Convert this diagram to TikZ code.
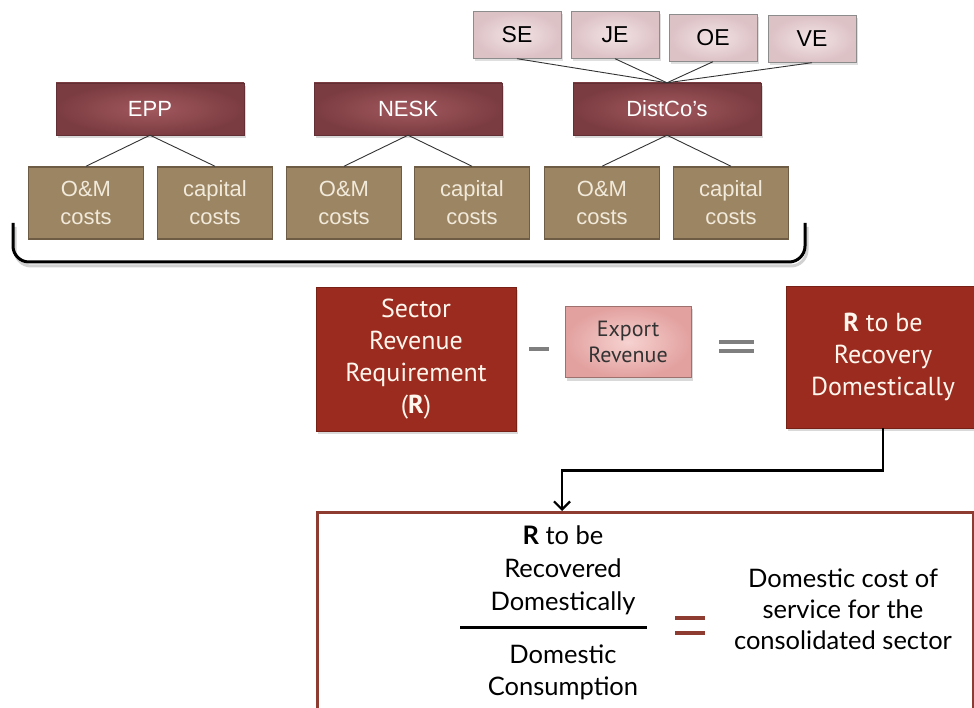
\documentclass[tikz,border=0pt]{standalone}
\usepackage{fontspec}
\usepackage{xcolor}
\usepackage{tikz}
\usetikzlibrary{arrows.meta,positioning,shadows}

\newfontfamily\orgfont{Liberation Sans}
\newfontfamily\narrowfont{PT Sans}
\newfontfamily\gillfont{Lato}

\definecolor{orglight}{HTML}{A2595E}
\definecolor{orgdark}{HTML}{7B3C41}
\definecolor{costfill}{HTML}{9C8563}
\definecolor{costline}{HTML}{6E5D44}
\definecolor{costtext}{HTML}{F1EADB}
\definecolor{unitlight}{HTML}{F3E4E6}
\definecolor{unitdark}{HTML}{DCC1C5}
\definecolor{sectorred}{HTML}{9C2B1F}
\definecolor{sectorline}{HTML}{772016}
\definecolor{exportlight}{HTML}{F6D2D0}
\definecolor{exportdark}{HTML}{E2A19F}
\definecolor{signgrey}{HTML}{7F7F7F}
\definecolor{consred}{HTML}{8E3B31}

\begin{document}
\begin{tikzpicture}[
  x=1pt, y=-1pt,
  org/.style={draw=orgdark!80!black, inner color=orglight, outer color=orgdark,
    text=white, minimum width=188pt, minimum height=52pt, inner sep=0pt,
    font=\orgfont\fontsize{22}{26}\selectfont,
    drop shadow={opacity=.3, shadow xshift=2pt, shadow yshift=-3pt}},
  cost/.style={draw=costline, line width=1.5pt, fill=costfill, text=costtext,
    align=center, minimum width=115pt, minimum height=72pt, inner sep=0pt,
    font=\orgfont\fontsize{22}{28}\selectfont},
  unit/.style={draw=black!45, inner color=unitlight, outer color=unitdark,
    minimum width=88pt, minimum height=47pt, inner sep=0pt,
    font=\orgfont\fontsize{23}{26}\selectfont,
    drop shadow={opacity=.25, shadow xshift=2pt, shadow yshift=-3pt}},
  sector/.style={draw=sectorline, fill=sectorred, text=white!93!orange,
    align=center, inner sep=0pt, font=\narrowfont\fontsize{26}{32}\selectfont,
    drop shadow={opacity=.3, shadow xshift=2pt, shadow yshift=-3pt}},
  export/.style={draw=exportdark!70!black, inner color=exportlight, outer color=exportdark,
    text=black!80, align=center, minimum width=126pt, minimum height=71pt, inner sep=0pt,
    font=\narrowfont\fontsize{22}{26}\selectfont,
    drop shadow={opacity=.3, shadow xshift=2pt, shadow yshift=-3pt}},
  gill/.style={align=center, inner sep=0pt, font=\gillfont\fontsize{25.5}{33}\selectfont},
  link/.style={draw=black!80, line width=0.9pt},
  sign/.style={draw=signgrey, line width=4.5pt},
  brace/.style={line width=3pt, rounded corners=16pt},
  a/.style={line width=2.6pt, -{Straight Barb[length=8pt, width=16pt, line width=2.2pt]}}]
\useasboundingbox (0,0) rectangle (974,708);
\clip (0,0) rectangle (974,708);

% companies and their costs
\node[org] (epp) at (150,109) {EPP};
\node[org] (nesk) at (408,109) {NESK};
\node[org] (dist) at (667,109) {DistCo’s};
\node[cost] (epp-om) at (86,203) {O\&M\\costs};
\node[cost] (epp-cap) at (215,203) {capital\\costs};
\node[cost] (nesk-om) at (344,203) {O\&M\\costs};
\node[cost] (nesk-cap) at (472,203) {capital\\costs};
\node[cost] (dist-om) at (602,203) {O\&M\\costs};
\node[cost] (dist-cap) at (731,203) {capital\\costs};
\foreach \o in {epp,nesk,dist}{
  \draw[link] (\o.south) -- (\o-om.north);
  \draw[link] (\o.south) -- (\o-cap.north);
}

% distribution units
\node[unit] (se) at (517,35) {SE};
\node[unit] (je) at (615,35) {JE};
\node[unit] (oe) at (713,38) {OE};
\node[unit] (ve) at (812,39) {VE};
\foreach \u in {se,je,oe,ve}
  \draw[link] (\u.south) -- (dist.north);

% brace under the costs
\draw[brace, black!18, shift={(2,4)}] (13,223) -- (13,262) -- (805,262) -- (805,223);
\draw[brace] (13,223) -- (13,262) -- (805,262) -- (805,223);

% revenue balance
\node[sector, minimum width=200pt, minimum height=144pt] (srr) at (416,359)
  {Sector\\Revenue\\Requirement\\(\textbf{R})};
\draw[sign] (529,349) -- (549,349);
\node[export] (exp) at (628,342) {Export\\Revenue};
\draw[sign] (719,342) -- (754,342);
\draw[sign] (719,351) -- (754,351);
\node[sector, minimum width=194pt, minimum height=142pt] (rdom) at (883,357)
  {\textbf{R} to be\\Recovery\\Domestically};

% consolidated cost of service
\node[draw=consred, line width=3pt, minimum width=656pt, minimum height=210pt] (cons) at (645,617) {};
\coordinate (tip) at (562,511);
\draw[a] (rdom.south) -- ++(0,42) -| (tip);
\node[gill] (num) at (563,570) {\textbf{R} to be\\Recovered\\Domestically};
\node[gill, font=\gillfont\fontsize{25.5}{32}\selectfont] (den) at (563,672) {Domestic\\Consumption};
\draw[line width=3pt] (460,627) -- (647,627);
\draw[consred, line width=4pt] (675,618) -- (705,618);
\draw[consred, line width=4pt] (675,633) -- (705,633);
\node[gill, font=\gillfont\fontsize{25.5}{31}\selectfont] (dcs) at (843,609)
  {Domestic cost of\\service for the\\consolidated sector};
\end{tikzpicture}
\end{document}
